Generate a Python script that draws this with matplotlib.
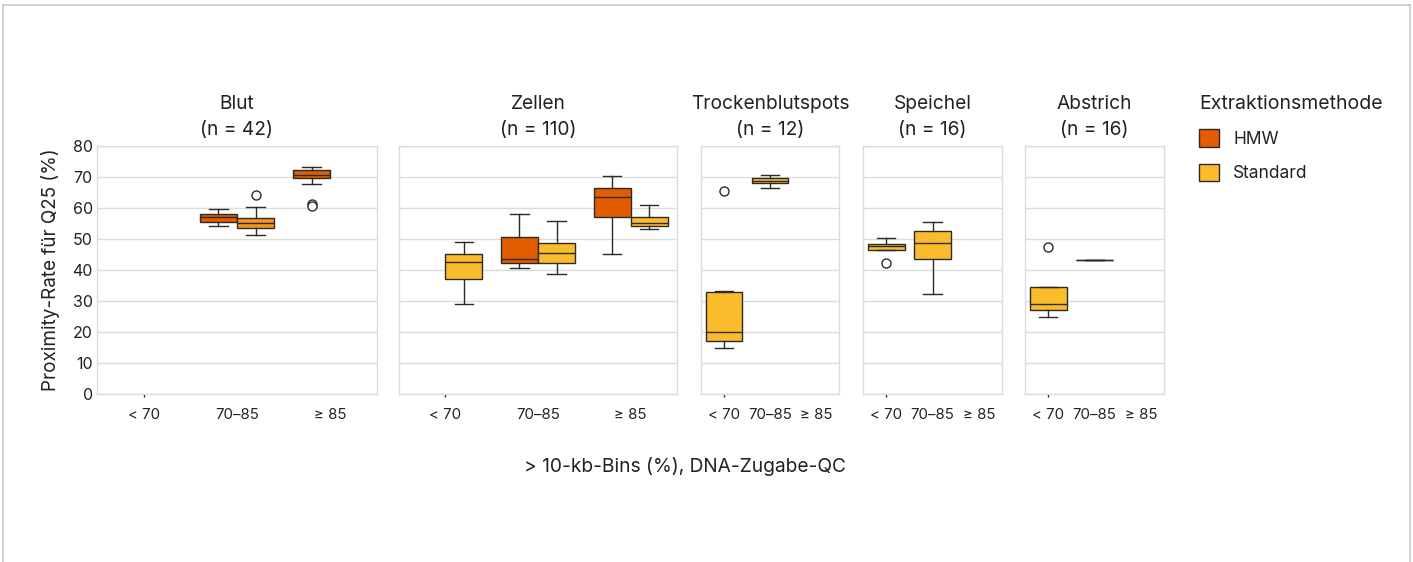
import matplotlib
matplotlib.use("Agg")
import matplotlib.pyplot as plt
from matplotlib.lines import Line2D
from matplotlib.patches import Patch

plt.rcParams['font.family'] = ['Inter', 'DejaVu Sans']

# ---------------- data ----------------
panels = ["Blut", "Zellen", "Trockenblutspots", "Speichel", "Abstrich"]
panel_n = [42, 110, 12, 16, 16]
categories = ["< 70", "70–85", "≥ 85"]
methods = ["HMW", "Standard"]

# box stats per panel: (category index, method, whislo, q1, med, q3, whishi, fliers)
blut_boxes = [
    (1, "HMW", 54.2, 55.4, 57.0, 58.2, 59.6, []),
    (1, "Standard", 51.4, 53.7, 55.3, 56.9, 60.2, [64.1]),
    (2, "HMW", 67.9, 69.6, 70.8, 72.4, 73.2, [61.2, 60.8]),
]
zellen_boxes = [
    (0, "Standard", 28.9, 37.0, 42.5, 45.0, 48.9, []),
    (1, "HMW", 40.6, 42.1, 43.5, 50.8, 58.0, []),
    (1, "Standard", 38.7, 42.2, 45.4, 48.6, 55.7, []),
    (2, "HMW", 45.2, 57.0, 63.7, 66.6, 70.4, []),
    (2, "Standard", 53.3, 54.2, 55.3, 57.1, 61.1, []),
]
trocken_boxes = [
    (0, "Standard", 15.0, 17.1, 19.9, 33.0, 33.1, [65.5]),
    (1, "Standard", 66.4, 68.1, 68.8, 69.6, 70.8, []),
]
speichel_boxes = [
    (0, "Standard", 46.5, 46.5, 47.6, 48.3, 50.3, [42.4]),
    (1, "Standard", 32.3, 43.7, 48.6, 52.7, 55.5, []),
]
abstrich_boxes = [
    (0, "Standard", 24.9, 27.0, 28.9, 34.5, 34.5, [47.4]),
    (1, "Standard", 43.1, 43.1, 43.2, 43.3, 43.3, []),
]
all_boxes = [blut_boxes, zellen_boxes, trocken_boxes, speichel_boxes, abstrich_boxes]

colors = {"HMW": "#e35d00", "Standard": "#fbbc2c"}
blut_standard_color = "#f7941d"

y_ticks = [0, 10, 20, 30, 40, 50, 60, 70, 80]

# ---------------- layout ----------------
W, H = 1413, 562
fig = plt.figure(figsize=(W / 100, H / 100), dpi=100)

panel_px = [(97, 377), (399, 677), (701, 839), (863, 1002), (1025, 1164)]
top_px, bot_px = 146, 394

grid_c = "#dcdcdc"
text_c = "#222222"
edge_c = "#2a2a2a"

for i, (name, n, boxes, (x0, x1)) in enumerate(zip(panels, panel_n, all_boxes, panel_px)):
    ax = fig.add_axes([x0 / W, (H - bot_px) / H, (x1 - x0) / W, (bot_px - top_px) / H])
    present = {b[1] for b in boxes}
    both = len(present) > 1
    stats, pos, widths, cols = [], [], [], []
    for (ci, m, lo, q1, med, q3, hi, fl) in boxes:
        stats.append(dict(whislo=lo, q1=q1, med=med, q3=q3, whishi=hi, fliers=fl))
        if both:
            off = -0.2 if m == "HMW" else 0.2
            w = 0.4
        else:
            off = 0.0
            w = 0.8
        pos.append(ci + off)
        widths.append(w)
        if name == "Blut" and m == "Standard":
            cols.append(blut_standard_color)
        else:
            cols.append(colors[m])
    bp = ax.bxp(stats, positions=pos, widths=widths, patch_artist=True,
                showfliers=True,
                boxprops=dict(edgecolor=edge_c, linewidth=1.0),
                medianprops=dict(color=edge_c, linewidth=1.0),
                whiskerprops=dict(color=edge_c, linewidth=1.0),
                capprops=dict(color=edge_c, linewidth=1.0),
                flierprops=dict(marker='o', markerfacecolor='white', markeredgecolor=edge_c,
                                markersize=6.5, markeredgewidth=1.0),
                capwidths=[w * 0.5 for w in widths])
    for patch, c in zip(bp['boxes'], cols):
        patch.set_facecolor(c)

    ax.set_xlim(-0.5, 2.5)
    ax.set_ylim(0, 80)
    ax.set_yticks(y_ticks)
    ax.yaxis.grid(True, color=grid_c, linewidth=1.0)
    ax.set_axisbelow(True)
    for s in ax.spines.values():
        s.set_color(grid_c)
        s.set_linewidth(1.0)
    ax.set_xticks(range(len(categories)))
    ax.set_xticklabels(categories, fontsize=10.8, color=text_c)
    ax.tick_params(axis='x', length=2, width=1, color=text_c, pad=8)
    for t in ax.xaxis.get_major_ticks()[1:]:
        t.tick1line.set_visible(False)
    if i == 0:
        ax.set_yticklabels([str(v) for v in y_ticks], fontsize=11.5, color=text_c)
        ax.tick_params(axis='y', length=0, pad=3)
        ax.set_ylabel("Proximity-Rate für Q25 (%)", fontsize=13.6, color=text_c, labelpad=9)
    else:
        ax.tick_params(axis='y', length=0, labelleft=False)
    ax.set_title(f"{name}\n(n = {n})", fontsize=13.8, color=text_c, pad=8, linespacing=1.55)

fig.text(685 / W, 1 - 466 / H, "> 10-kb-Bins (%), DNA-Zugabe-QC", ha='center', va='center',
         fontsize=13.8, color=text_c)

# legend
handles = [Patch(facecolor=colors[m], edgecolor=edge_c, linewidth=1.0) for m in methods]
leg = fig.legend(handles, methods, title="Extraktionsmethode", loc='upper left',
                 bbox_to_anchor=(1183 / W, 1 - 79 / H), frameon=False,
                 fontsize=12.5, title_fontsize=14, handlelength=1.1, handleheight=1.15,
                 handletextpad=0.85, labelspacing=0.92, alignment='left', borderpad=0.45)
for t in leg.get_texts():
    t.set_color(text_c)
leg.get_title().set_color(text_c)

# outer frame
frame_c = "#c8c8c8"
fig.add_artist(Line2D([3 / W, 1410 / W], [1 - 5 / H, 1 - 5 / H], color=frame_c, linewidth=1.2))
fig.add_artist(Line2D([3 / W, 3 / W], [0, 1 - 5 / H], color=frame_c, linewidth=1.2))
fig.add_artist(Line2D([1410 / W, 1410 / W], [0, 1 - 5 / H], color=frame_c, linewidth=1.2))

fig.savefig("out.png", dpi=100)
